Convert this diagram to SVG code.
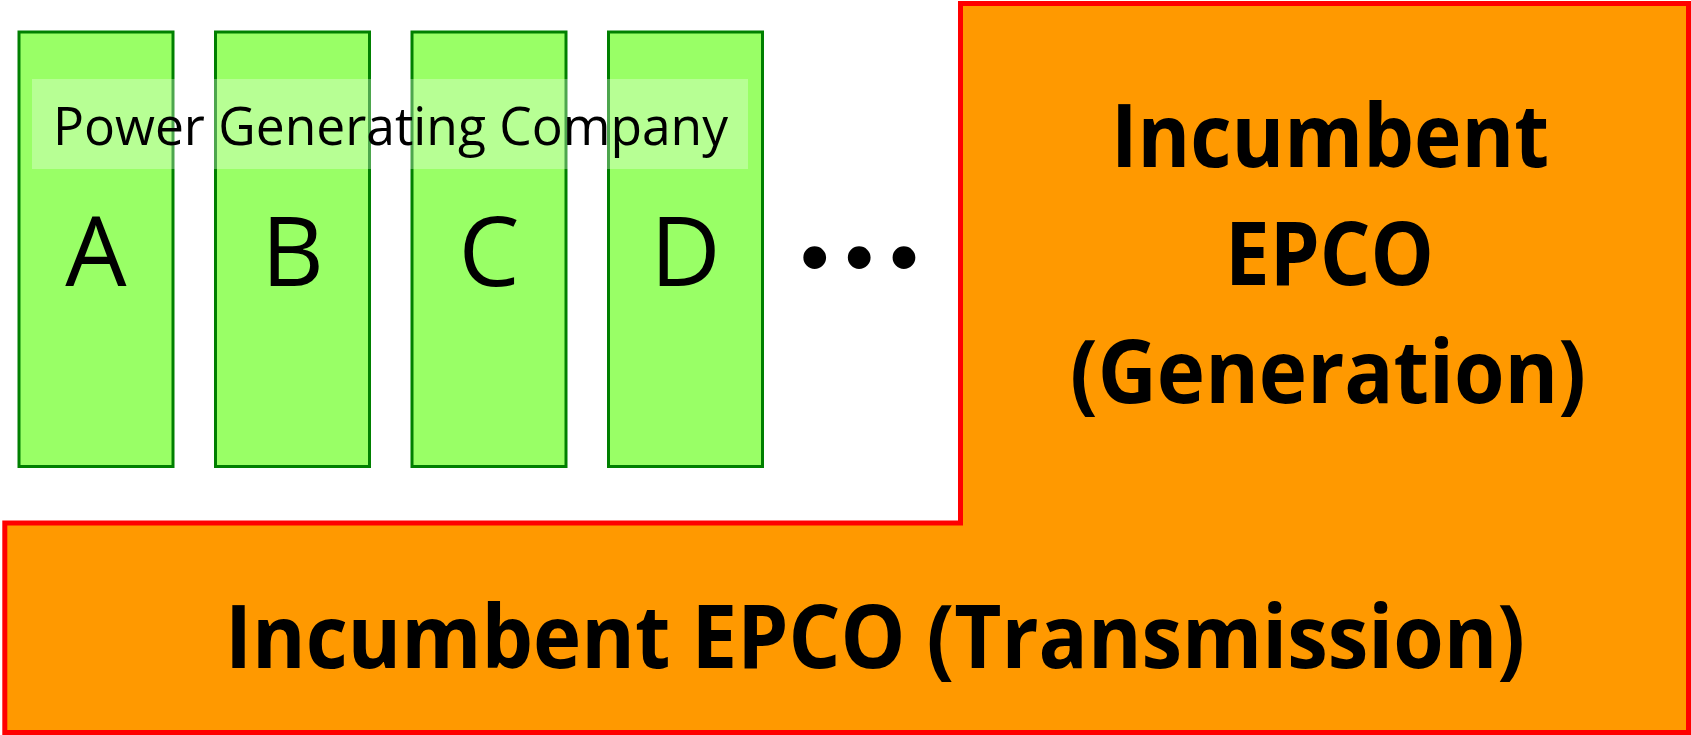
<svg xmlns="http://www.w3.org/2000/svg" width="1691" height="735" viewBox="0 0 1691 735">
  <style>
    .bg { fill: #ffffff; }
    .gen-box { fill: #99ff66; stroke: #008000; stroke-width: 3; }
    .letter { font-family: "Open Sans", "Liberation Sans", sans-serif; font-size: 97px; fill: #000000; text-anchor: middle; }
    .label-bg { fill: #ffffff; fill-opacity: 0.3; }
    .label { font-family: "Open Sans", "Liberation Sans", sans-serif; font-size: 53px; fill: #000000; text-anchor: middle; }
    .epco-fill { fill: #ff9900; stroke: none; }
    .epco-edge { fill: none; stroke: #ff0000; stroke-width: 5; stroke-linecap: square; stroke-linejoin: miter; }
    .epco-text { font-family: "Open Sans", "Liberation Sans", sans-serif; font-weight: bold; font-size: 87px; fill: #000000; text-anchor: middle; }
    .dots { font-family: "Liberation Sans", sans-serif; font-size: 84px; fill: #000000; text-anchor: middle; }
  </style>
  <rect class="bg" x="0" y="0" width="1691" height="735"/>

  <g id="company-a">
    <rect class="gen-box" x="19" y="32" width="154" height="434.5"/>
    <text class="letter" x="96" y="286">A</text>
  </g>
  <g id="company-b">
    <rect class="gen-box" x="215.5" y="32" width="154" height="434.5"/>
    <text class="letter" x="292.5" y="286">B</text>
  </g>
  <g id="company-c">
    <rect class="gen-box" x="412" y="32" width="154" height="434.5"/>
    <text class="letter" x="489" y="286">C</text>
  </g>
  <g id="company-d">
    <rect class="gen-box" x="608.5" y="32" width="154" height="434.5"/>
    <text class="letter" x="685.5" y="286">D</text>
  </g>

  <g id="power-generating-company-label">
    <rect class="label-bg" x="32" y="79" width="716" height="90"/>
    <text class="label" x="390.5" y="145" textLength="675" lengthAdjust="spacingAndGlyphs">Power Generating Company</text>
  </g>

  <g id="ellipsis">
    <text class="dots" x="814.7 859.3 904" y="285">•••</text>
  </g>

  <g id="epco-generation">
    <rect class="epco-fill" x="960.5" y="3.5" width="728" height="519.5"/>
    <path class="epco-edge" d="M960.5,523 V3.5 H1688.5 V523"/>
    <text class="epco-text" x="1330" y="167" textLength="438" lengthAdjust="spacingAndGlyphs">Incumbent</text>
    <text class="epco-text" x="1329.5" y="285" textLength="209" lengthAdjust="spacingAndGlyphs">EPCO</text>
    <text class="epco-text" x="1328" y="403" textLength="516" lengthAdjust="spacingAndGlyphs">(Generation)</text>
  </g>

  <g id="epco-transmission">
    <rect class="epco-fill" x="4.8" y="523" width="1683.7" height="209.5"/>
    <path class="epco-edge" d="M960.5,523 H4.8 V732.5 H1688.5 V523"/>
    <text class="epco-text" x="875" y="668" textLength="1300" lengthAdjust="spacingAndGlyphs">Incumbent EPCO (Transmission)</text>
  </g>

  <g id="connectors"></g>
</svg>
